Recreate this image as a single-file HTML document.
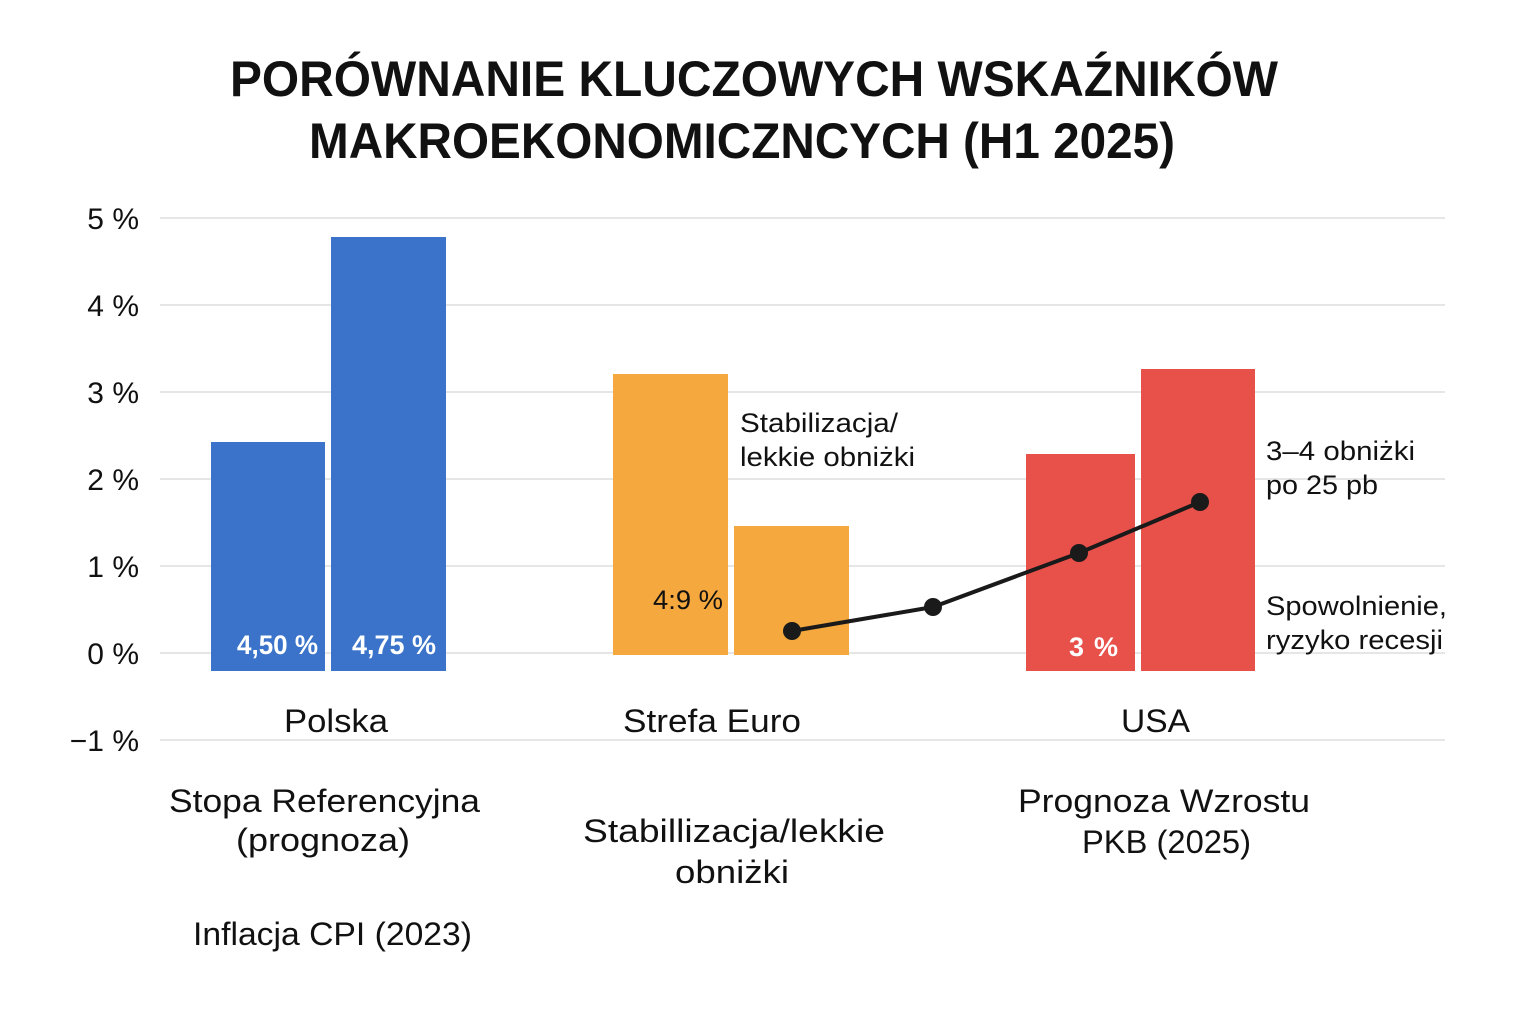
<!DOCTYPE html>
<html><head><meta charset="utf-8"><style>
html,body{margin:0;padding:0;background:#fff;}
svg{display:block;font-family:"Liberation Sans","DejaVu Sans",sans-serif;}
</style></head><body>
<svg width="1536" height="1024" viewBox="0 0 1536 1024" xmlns="http://www.w3.org/2000/svg">
<rect width="1536" height="1024" fill="#ffffff"/>
<g font-weight="bold" font-size="50" fill="#111" text-anchor="middle">
<text x="754" y="96" textLength="1048" lengthAdjust="spacingAndGlyphs">PORÓWNANIE KLUCZOWYCH WSKAŹNIKÓW</text>
<text x="742" y="158" textLength="866" lengthAdjust="spacingAndGlyphs">MAKROEKONOMICZNCYCH (H1 2025)</text>
</g>
<g stroke="#dddddd" stroke-width="1.5">
<line x1="160" y1="218" x2="1445" y2="218"/>
<line x1="160" y1="305" x2="1445" y2="305"/>
<line x1="160" y1="392" x2="1445" y2="392"/>
<line x1="160" y1="479" x2="1445" y2="479"/>
<line x1="160" y1="566" x2="1445" y2="566"/>
<line x1="160" y1="653" x2="1445" y2="653"/>
<line x1="160" y1="740" x2="1445" y2="740"/>
</g>
<g font-size="30" fill="#111" text-anchor="end">
<text x="139" y="229">5 %</text>
<text x="139" y="316">4 %</text>
<text x="139" y="403">3 %</text>
<text x="139" y="490">2 %</text>
<text x="139" y="577">1 %</text>
<text x="139" y="664">0 %</text>
<text x="139" y="751">−1 %</text>
</g>
<rect x="211" y="442" width="114" height="229" fill="#3a73c9"/>
<rect x="331" y="237" width="115" height="434" fill="#3a73c9"/>
<rect x="613" y="374" width="115" height="281" fill="#f5a83d"/>
<rect x="734" y="526" width="115" height="129" fill="#f5a83d"/>
<rect x="1026" y="454" width="109" height="217" fill="#e8504a"/>
<rect x="1141" y="369" width="114" height="302" fill="#e8504a"/>
<g font-weight="bold" font-size="27" fill="#fff">
<text x="237" y="654" textLength="81" lengthAdjust="spacingAndGlyphs">4,50 %</text>
<text x="352" y="654" textLength="84" lengthAdjust="spacingAndGlyphs">4,75 %</text>
<text x="1069" y="656" textLength="49" lengthAdjust="spacing">3  %</text>
</g>
<text x="653" y="609" font-size="27" fill="#111" textLength="70" lengthAdjust="spacingAndGlyphs">4:9 %</text>
<polyline points="792,631 933,607 1079,553 1200,502" fill="none" stroke="#1a1a1a" stroke-width="4"/>
<g fill="#1a1a1a">
<circle cx="792" cy="631" r="9"/><circle cx="933" cy="607" r="9"/>
<circle cx="1079" cy="553" r="9"/><circle cx="1200" cy="502" r="9"/>
</g>
<g font-size="27" fill="#111" lengthAdjust="spacingAndGlyphs">
<text x="740" y="432" textLength="158" lengthAdjust="spacingAndGlyphs">Stabilizacja/</text>
<text x="740" y="466" textLength="175" lengthAdjust="spacingAndGlyphs">lekkie obniżki</text>
<text x="1266" y="460" textLength="149" lengthAdjust="spacingAndGlyphs">3–4 obniżki</text>
<text x="1266" y="494" textLength="112" lengthAdjust="spacingAndGlyphs">po 25 pb</text>
<text x="1266" y="615" textLength="181" lengthAdjust="spacingAndGlyphs">Spowolnienie,</text>
<text x="1266" y="649" textLength="177" lengthAdjust="spacingAndGlyphs">ryzyko recesji</text>
</g>
<g font-size="32" fill="#111">
<text x="284" y="732" textLength="104" lengthAdjust="spacingAndGlyphs">Polska</text>
<text x="623" y="732" textLength="178" lengthAdjust="spacingAndGlyphs">Strefa Euro</text>
<text x="1121" y="732" textLength="69" lengthAdjust="spacingAndGlyphs">USA</text>
<text x="169" y="812" textLength="311" lengthAdjust="spacingAndGlyphs">Stopa Referencyjna</text>
<text x="236" y="851" textLength="174" lengthAdjust="spacingAndGlyphs">(prognoza)</text>
<text x="193" y="945" textLength="279" lengthAdjust="spacingAndGlyphs">Inflacja CPI (2023)</text>
<text x="583" y="842" textLength="302" lengthAdjust="spacingAndGlyphs">Stabillizacja/lekkie</text>
<text x="675" y="883" textLength="114" lengthAdjust="spacingAndGlyphs">obniżki</text>
<text x="1018" y="812" textLength="292" lengthAdjust="spacingAndGlyphs">Prognoza Wzrostu</text>
<text x="1082" y="853" textLength="169" lengthAdjust="spacingAndGlyphs">PKB (2025)</text>
</g>
</svg>
</body></html>
